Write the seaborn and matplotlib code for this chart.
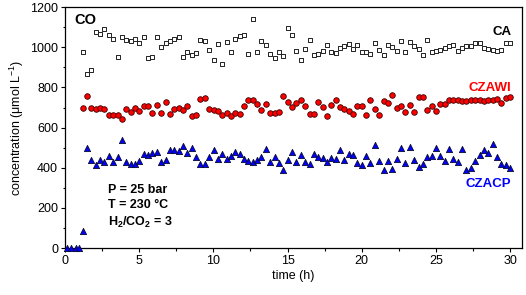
import numpy as np
import pandas as pd
import matplotlib
matplotlib.use("Agg")
import matplotlib.pyplot as plt
from matplotlib.ticker import MultipleLocator
import seaborn as sns

# =========================
# Data
# =========================
TIME_H = [
    1.19, 1.48, 1.78, 2.07, 2.37, 2.66, 2.95, 3.25, 3.54, 3.84,
    4.13, 4.42, 4.72, 5.01, 5.31, 5.60, 5.89, 6.19, 6.48, 6.78,
    7.07, 7.36, 7.66, 7.95, 8.25, 8.54, 8.83, 9.13, 9.42, 9.72,
    10.01, 10.30, 10.60, 10.89, 11.19, 11.48, 11.77, 12.07, 12.36, 12.66,
    12.95, 13.24, 13.54, 13.83, 14.13, 14.42, 14.71, 15.01, 15.30, 15.60,
    15.89, 16.18, 16.48, 16.77, 17.07, 17.36, 17.65, 17.95, 18.24, 18.54,
    18.83, 19.12, 19.42, 19.71, 20.01, 20.30, 20.59, 20.89, 21.18, 21.48,
    21.77, 22.06, 22.36, 22.65, 22.95, 23.24, 23.53, 23.83, 24.12, 24.42,
    24.71, 25.00, 25.30, 25.59, 25.89, 26.18, 26.47, 26.77, 27.06, 27.36,
    27.65, 27.94, 28.24, 28.53, 28.83, 29.12, 29.41, 29.71, 30.00,
]

CA = [
    977, 869, 889, 1076, 1066, 1093, 1060, 1041, 952, 1050,
    1036, 1030, 1041, 1020, 1050, 947, 952, 1053, 1000, 1020,
    1030, 1043, 1053, 953, 978, 962, 970, 1035, 1032, 987,
    935, 1018, 918, 1025, 977, 1043, 1058, 1061, 968, 1141,
    975, 1033, 1013, 968, 947, 977, 955, 1096, 1060, 980,
    938, 992, 1038, 963, 968, 980, 1013, 975, 972, 997,
    1005, 1018, 992, 1013, 977, 977, 968, 1022, 988, 963,
    1013, 1002, 983, 1033, 977, 1024, 1005, 992, 963, 1038,
    977, 983, 988, 997, 1005, 1013, 980, 997, 1005, 1008,
    1022, 1022, 997, 992, 988, 980, 988, 1022, 1022,
]

CZAWI = [
    698, 756, 698, 693, 696, 693, 664, 664, 664, 643,
    693, 678, 698, 681, 706, 709, 673, 714, 673, 728,
    669, 693, 700, 686, 706, 659, 664, 744, 746, 694,
    689, 684, 661, 673, 659, 673, 669, 706, 739, 736,
    718, 689, 718, 673, 671, 678, 756, 729, 703, 722,
    739, 709, 669, 669, 726, 703, 656, 714, 736, 703,
    694, 681, 669, 706, 709, 663, 739, 693, 664, 731,
    722, 761, 698, 709, 678, 711, 679, 752, 752, 689,
    706, 684, 718, 719, 739, 736, 736, 734, 734, 736,
    739, 739, 734, 736, 739, 742, 722, 747, 752,
]

CZACP_START_TIME = [0.13, 0.42, 0.71, 0.96]
CZACP_START = [0, 0, 0, 0]
CZACP = [
    83, 498, 440, 415, 440, 429, 460, 429, 453, 540,
    427, 419, 419, 432, 470, 463, 472, 477, 427, 440,
    490, 490, 484, 507, 473, 498, 453, 419, 419, 453,
    490, 443, 468, 443, 457, 477, 468, 443, 435, 427,
    437, 452, 495, 427, 452, 424, 390, 440, 477, 429,
    465, 429, 420, 470, 452, 448, 427, 448, 443, 487,
    437, 470, 463, 424, 415, 457, 424, 512, 432, 387,
    432, 395, 445, 498, 424, 505, 440, 402, 420, 452,
    460, 498, 457, 432, 495, 445, 430, 495, 387, 399,
    435, 462, 490, 473, 518, 452, 420, 412, 399,
]

OUT_FIG = "out.png"


def main():
    sns.set_style("ticks")
    plt.rcParams.update({
        "font.family": ["Liberation Sans", "DejaVu Sans"],
        "font.size": 9,
        "text.color": "black",
        "axes.labelcolor": "black",
        "axes.linewidth": 0.9,
        "xtick.direction": "out",
        "ytick.direction": "out",
        "xtick.major.size": 3,
        "ytick.major.size": 3,
        "xtick.minor.size": 1.8,
        "ytick.minor.size": 1.8,
        "xtick.major.width": 0.8,
        "ytick.major.width": 0.8,
        "xtick.minor.width": 0.8,
        "ytick.minor.width": 0.8,
        "xtick.color": "black",
        "ytick.color": "black",
        "xtick.labelcolor": "black",
        "ytick.labelcolor": "black",
        "axes.edgecolor": "black",
        "mathtext.fontset": "custom",
        "mathtext.rm": "Liberation Sans",
        "mathtext.bf": "Liberation Sans:bold",
        "mathtext.it": "Liberation Sans:italic",
    })

    df_ca = pd.DataFrame({"t": TIME_H, "c": CA})
    df_wi = pd.DataFrame({"t": TIME_H, "c": CZAWI})
    df_cp = pd.DataFrame({"t": CZACP_START_TIME + TIME_H, "c": CZACP_START + CZACP})

    fig = plt.figure(figsize=(5.26, 2.95), dpi=100)
    ax = fig.add_axes([0.1236, 0.159, 0.8687, 0.817])

    sns.scatterplot(data=df_ca, x="t", y="c", marker="s", s=10, color="white",
                    edgecolor="#222222", linewidth=0.7, ax=ax, clip_on=False, zorder=3)
    sns.scatterplot(data=df_wi, x="t", y="c", marker="o", s=16, color="#ff0000",
                    edgecolor="#3a0000", linewidth=0.6, ax=ax, clip_on=False, zorder=3)
    sns.scatterplot(data=df_cp, x="t", y="c", marker="^", s=20, color="#0000ff",
                    edgecolor="#0a0a30", linewidth=0.6, ax=ax, clip_on=False, zorder=4)

    ax.set_xlim(0, 30.8)
    ax.set_ylim(0, 1200)
    ax.xaxis.set_major_locator(MultipleLocator(5))
    ax.xaxis.set_minor_locator(MultipleLocator(2.5))
    ax.yaxis.set_major_locator(MultipleLocator(200))
    ax.yaxis.set_minor_locator(MultipleLocator(100))
    ax.tick_params(axis="both", labelsize=9, pad=2, colors="black")
    for sp in ax.spines.values():
        sp.set_visible(True)
        sp.set_linewidth(0.9)
        sp.set_color("black")

    ax.set_xlabel("time (h)", fontsize=9, labelpad=2, color="black")
    ax.set_ylabel("concentration (\u03bcmol L$^{-1}$)", fontsize=9, labelpad=3, color="black")

    ax.text(0.02, 0.975, "CO", transform=ax.transAxes, ha="left", va="top",
            fontsize=10.5, fontweight="bold", color="black")
    ax.text(30.1, 1076, "CA", ha="right", va="center", fontsize=9.5,
            fontweight="bold", color="black")
    ax.text(30.1, 797, "CZAWI", ha="right", va="center", fontsize=9.5,
            fontweight="bold", color="#ff0000")
    ax.text(30.1, 319, "CZACP", ha="right", va="center", fontsize=9.5,
            fontweight="bold", color="#0000ff")
    ax.text(2.88, 289, "P = 25 bar", ha="left", va="center", fontsize=9,
            fontweight="bold", color="black")
    ax.text(2.88, 214, "T = 230 \u00b0C", ha="left", va="center", fontsize=9,
            fontweight="bold", color="black")
    ax.text(2.88, 129, r"H$_\mathbf{2}$/CO$_\mathbf{2}$ = 3", ha="left", va="center",
            fontsize=9, fontweight="bold", color="black")

    fig.savefig(OUT_FIG, dpi=100)
    plt.close(fig)


if __name__ == "__main__":
    main()
